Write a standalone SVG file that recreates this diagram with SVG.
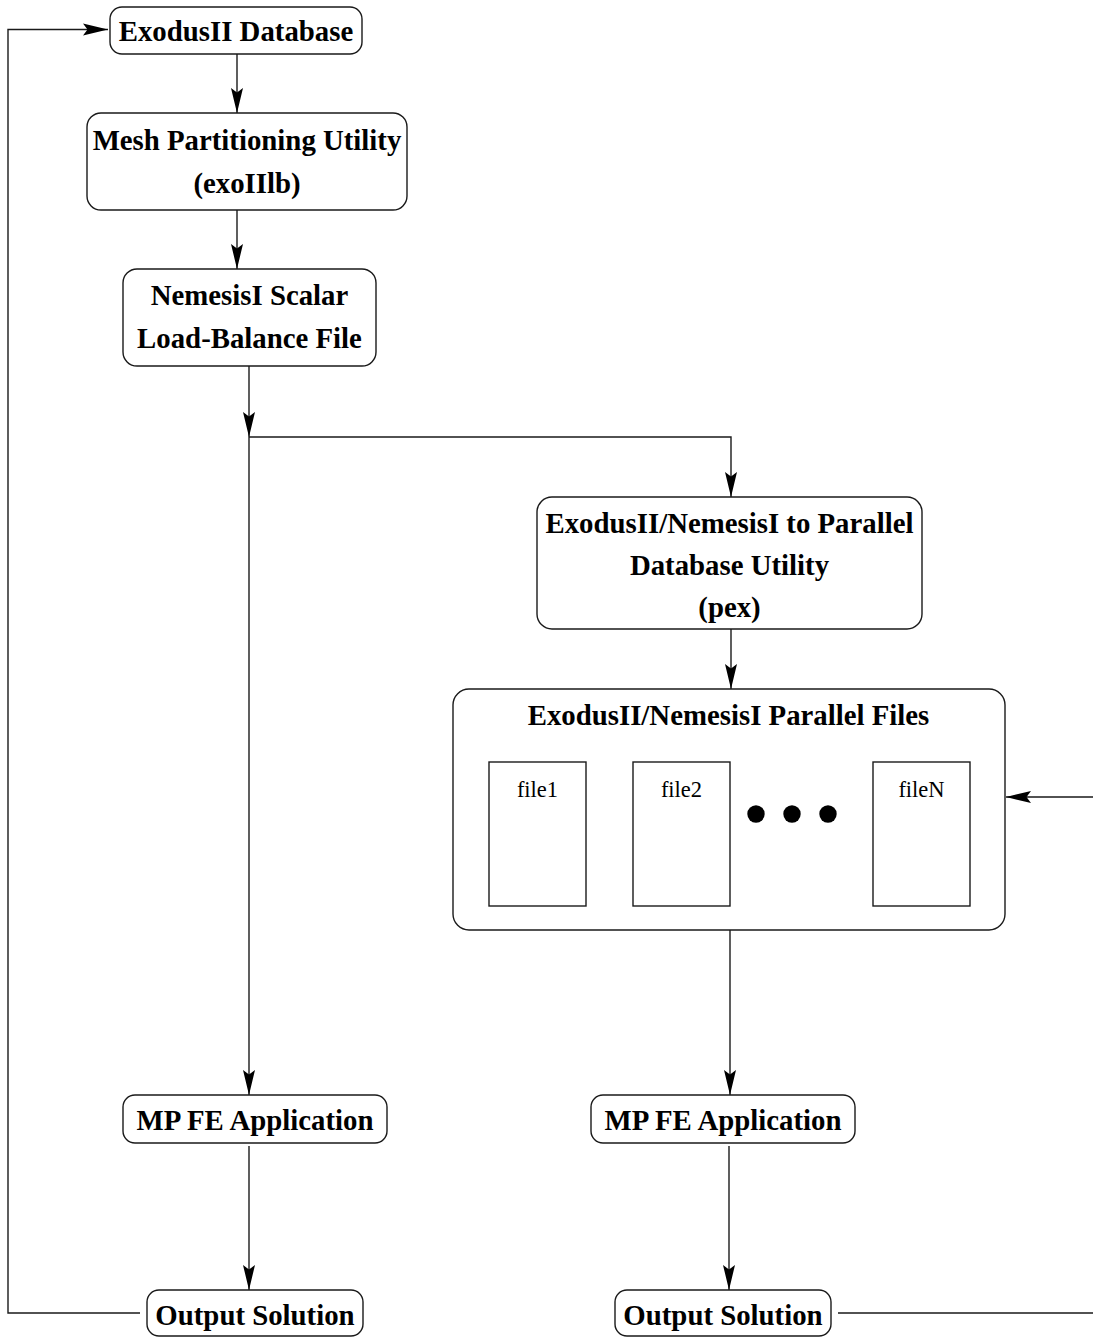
<svg xmlns="http://www.w3.org/2000/svg" width="1093" height="1338" viewBox="0 0 1093 1338">
<style>
.box{fill:#fff;stroke:#1a1a1a;stroke-width:1.4}
.frect{fill:#fff;stroke:#1a1a1a;stroke-width:1.4}
.lbl{font-family:"Liberation Serif","Times New Roman",serif;font-weight:bold;font-size:28.8px;fill:#000;text-anchor:middle}
.flbl{font-family:"Liberation Serif","Times New Roman",serif;font-size:22.5px;fill:#000;text-anchor:middle}
.conn{fill:none;stroke:#1a1a1a;stroke-width:1.4}
</style>
<defs>
<marker id="ah" markerUnits="userSpaceOnUse" markerWidth="26" markerHeight="13" refX="25" refY="6.5" orient="auto" viewBox="0 0 26 13">
<path d="M0,0.5 L25,6.5 L0,12.5 L4.5,6.5 Z" fill="#000"/>
</marker>
</defs>
<rect width="1093" height="1338" fill="#fff"/>
<g id="connectors">
<path class="conn" d="M140,1313 H8 V29.5 H108" marker-end="url(#ah)"/>
<path class="conn" d="M237,54 V113" marker-end="url(#ah)"/>
<path class="conn" d="M237,210 V269" marker-end="url(#ah)"/>
<path class="conn" d="M249,366 V437" marker-end="url(#ah)"/>
<path class="conn" d="M249,437 H731 V497" marker-end="url(#ah)"/>
<path class="conn" d="M249,437 V1095" marker-end="url(#ah)"/>
<path class="conn" d="M731,629 V689" marker-end="url(#ah)"/>
<path class="conn" d="M730,930 V1095" marker-end="url(#ah)"/>
<path class="conn" d="M249,1146 V1290" marker-end="url(#ah)"/>
<path class="conn" d="M729,1146 V1290" marker-end="url(#ah)"/>
<path class="conn" d="M838,1313 H1100 V797 H1006" marker-end="url(#ah)"/>
</g>
<g id="exodus-db">
<rect class="box" x="110" y="7" width="252" height="47" rx="12"/>
<text class="lbl" x="236" y="41">ExodusII Database</text>
</g>
<g id="mesh-partition">
<rect class="box" x="87" y="113" width="320" height="97" rx="14"/>
<text class="lbl" x="247" y="150">Mesh Partitioning Utility</text>
<text class="lbl" x="247" y="193">(exoIIlb)</text>
</g>
<g id="nemesis-scalar">
<rect class="box" x="123" y="269" width="253" height="97" rx="14"/>
<text class="lbl" x="249.5" y="305">NemesisI Scalar</text>
<text class="lbl" x="249.5" y="348">Load-Balance File</text>
</g>
<g id="pex">
<rect class="box" x="537" y="497" width="385" height="132" rx="15"/>
<text class="lbl" x="729.5" y="533">ExodusII/NemesisI to Parallel</text>
<text class="lbl" x="729.5" y="575">Database Utility</text>
<text class="lbl" x="729.5" y="617">(pex)</text>
</g>
<g id="parallel-files">
<rect class="box" x="453" y="689" width="552" height="241" rx="16"/>
<text class="lbl" x="728.5" y="725">ExodusII/NemesisI Parallel Files</text>
<rect class="frect" x="489" y="762" width="97" height="144"/>
<text class="flbl" x="537.5" y="797">file1</text>
<rect class="frect" x="633" y="762" width="97" height="144"/>
<text class="flbl" x="681.5" y="797">file2</text>
<circle cx="756" cy="814" r="8.7" fill="#000"/>
<circle cx="792" cy="814" r="8.7" fill="#000"/>
<circle cx="828" cy="814" r="8.7" fill="#000"/>
<rect class="frect" x="873" y="762" width="97" height="144"/>
<text class="flbl" x="921.5" y="797">fileN</text>
</g>
<g id="mpfe-left">
<rect class="box" x="123" y="1095" width="264" height="48" rx="12"/>
<text class="lbl" x="255" y="1130">MP FE Application</text>
</g>
<g id="mpfe-right">
<rect class="box" x="591" y="1095" width="264" height="48" rx="12"/>
<text class="lbl" x="723" y="1130">MP FE Application</text>
</g>
<g id="output-left">
<rect class="box" x="147" y="1290" width="216" height="46" rx="12"/>
<text class="lbl" x="255" y="1325">Output Solution</text>
</g>
<g id="output-right">
<rect class="box" x="615" y="1290" width="216" height="46" rx="12"/>
<text class="lbl" x="723" y="1325">Output Solution</text>
</g>
</svg>
